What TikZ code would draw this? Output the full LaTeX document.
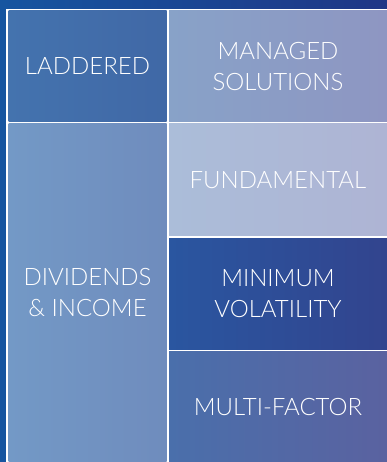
\documentclass[tikz,border=0pt]{standalone}
\usepackage{fontspec}
\setmainfont{Lato Light}
\begin{document}
\begin{tikzpicture}[x=1pt,y=-1pt,
  cell/.style={inner sep=0pt, outer sep=0pt, text=white, align=center,
    font=\fontsize{24}{31}\selectfont}]
\useasboundingbox (0,0) rectangle (387,462);
\shade[left color={rgb,255:red,22;green,85;blue,160}, right color={rgb,255:red,31;green,54;blue,134}] (0,0) rectangle (387,462);
\fill[white] (6,9) rectangle (387,462);
\node[cell, minimum width=158pt, minimum height=110.7pt,
  left color={rgb,255:red,68;green,115;blue,174}, right color={rgb,255:red,64;green,104;blue,166}]
  (lad) at (87.5,66.35) {LADDERED};
\node[cell, minimum width=218pt, minimum height=110.7pt,
  left color={rgb,255:red,136;green,162;blue,200}, right color={rgb,255:red,142;green,150;blue,194}]
  (man) at (278,66.35) {MANAGED\\SOLUTIONS};
\node[cell, minimum width=158pt, minimum height=338pt,
  left color={rgb,255:red,115;green,153;blue,198}, right color={rgb,255:red,111;green,140;blue,189}]
  (div) at (87.5,293) {DIVIDENDS\\\& INCOME};
\node[cell, minimum width=218pt, minimum height=111.7pt,
  left color={rgb,255:red,171;green,189;blue,217}, right color={rgb,255:red,174;green,180;blue,212}]
  (fun) at (278,179.85) {FUNDAMENTAL};
\node[cell, minimum width=218pt, minimum height=111pt,
  left color={rgb,255:red,42;green,86;blue,160}, right color={rgb,255:red,50;green,68;blue,142}]
  (min) at (278,293.5) {MINIMUM\\VOLATILITY};
\node[cell, minimum width=218pt, minimum height=110.5pt,
  left color={rgb,255:red,74;green,111;blue,171}, right color={rgb,255:red,90;green,98;blue,160}]
  (mul) at (278,406.75) {MULTI-FACTOR};
\end{tikzpicture}
\end{document}
